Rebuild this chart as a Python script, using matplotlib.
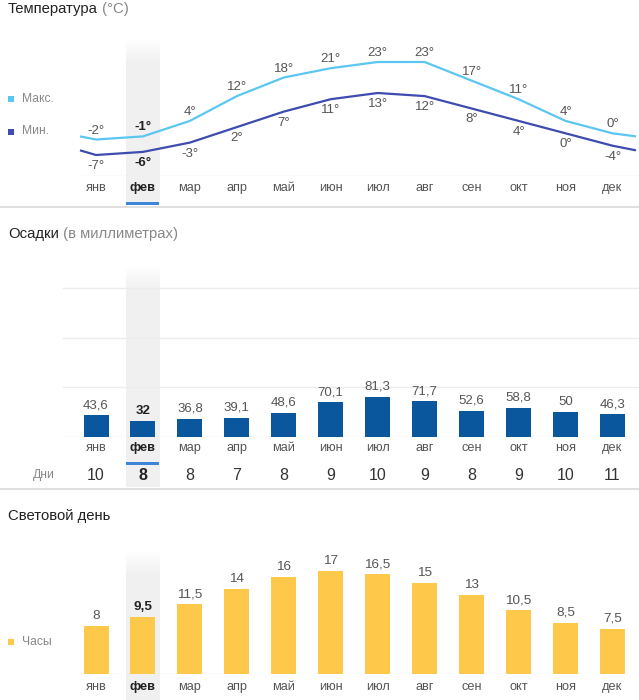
import matplotlib
matplotlib.use('Agg')
import matplotlib.pyplot as plt
from matplotlib import font_manager
from matplotlib.patches import Rectangle
import numpy as np

# avoid picking the condensed variant of Liberation Sans
font_manager.fontManager.ttflist = [f for f in font_manager.fontManager.ttflist
                                    if 'Narrow' not in f.fname]
try:
    font_manager.fontManager._findfont_cached.cache_clear()
except Exception:
    pass
plt.rcParams['font.family'] = ['Liberation Sans', 'DejaVu Sans']

# ---------------- data ----------------
months = ['янв', 'фев', 'мар', 'апр', 'май', 'июн', 'июл', 'авг', 'сен', 'окт', 'ноя', 'дек']
temp_max = [-2, -1, 4, 12, 18, 21, 23, 23, 17, 11, 4, 0]
temp_min = [-7, -6, -3, 2, 7, 11, 13, 12, 8, 4, 0, -4]
precip_mm = [43.6, 32, 36.8, 39.1, 48.6, 70.1, 81.3, 71.7, 52.6, 58.8, 50, 46.3]
rain_days = [10, 8, 8, 7, 8, 9, 10, 9, 8, 9, 10, 11]
daylight_h = [8, 9.5, 11.5, 14, 16, 17, 16.5, 15, 13, 10.5, 8.5, 7.5]
current = 1  # highlighted month (фев)

# ---------------- style ----------------
C_MAX = '#5cc6f2'
C_MIN = '#3d4cae'
C_RAIN = '#0a579e'
C_SUN = '#fec94a'
C_LABEL = '#555555'
C_DARK = '#222222'
C_LEG = '#888888'
C_HL = '#3d85d8'

W, H = 639, 700
X0, STEP = 96.0, 46.95
XL = (-X0 / STEP, (W - X0) / STEP)

def fmt(v):
    return f'{v:g}'.replace('.', ',')

fig = plt.figure(figsize=(W / 100, H / 100), dpi=100)
fig.patch.set_facecolor('white')

# background axes: x in month units, y in pixels (top-down)
bg = fig.add_axes([0, 0, 1, 1])
bg.axis('off')

def shade(top, bottom, ramp=25):
    n = int(bottom - top)
    a = np.clip(np.arange(n) / ramp, 0, 1)
    rgba = np.zeros((n, 1, 4))
    rgba[..., :3] = 0.945
    rgba[:, 0, 3] = a
    bg.imshow(rgba, extent=(current - 0.352, current + 0.352, bottom, top),
              aspect='auto', interpolation='bilinear', zorder=0)

shade(38, 205)
shade(265, 487)
shade(550, 700)

# separators
bg.plot([XL[0], XL[1]], [206.5, 206.5], color='#dddddd', lw=1.3, zorder=1)
bg.plot([XL[0], XL[1]], [488.5, 488.5], color='#dddddd', lw=1.3, zorder=1)

# highlight underlines
for y in (202, 462):
    bg.add_patch(Rectangle((current - 0.352, y), 0.704, 3, color=C_HL, lw=0, zorder=2))

def month_labels(ypix):
    for i, m in enumerate(months):
        bold = i == current
        bg.text(i, ypix, m, ha='center', va='center', fontsize=9.2,
                color=C_DARK if bold else C_LABEL,
                fontweight='bold' if bold else 'normal', zorder=3)

month_labels(188)
month_labels(448)
month_labels(687)

for i, d in enumerate(rain_days):
    bold = i == current
    bg.text(i, 475, str(d), ha='center', va='center', fontsize=11.5,
            color=C_DARK if bold else '#333333',
            fontweight='bold' if bold else 'normal', zorder=3)

bg.set_xlim(*XL)
bg.set_ylim(H, 0)

# titles
def title(x, ybase, main, sub):
    t = fig.text(x / W, 1 - ybase / H, main, fontsize=10.7, color=C_DARK,
                 ha='left', va='baseline')
    if sub:
        bg.annotate(sub, xy=(1, 0), xycoords=t, ha='left', va='bottom',
                    fontsize=10.7, color='#888888', annotation_clip=False)

title(8, 13, 'Температура', ' (°C)')
title(8, 238, 'Осадки', ' (в миллиметрах)')
title(8, 520, 'Световой день', '')

# legends
def legend_item(ypix, color, text):
    fig.patches.append(Rectangle((8 / W, 1 - (ypix + 3) / H), 6 / W, 6 / H,
                                 transform=fig.transFigure, color=color, lw=0))
    fig.text(22 / W, 1 - ypix / H, text, fontsize=8.7, color=C_LEG,
             ha='left', va='center')

legend_item(99, C_MAX, 'Макс.')
legend_item(131.5, C_MIN, 'Мин.')
legend_item(642, C_SUN, 'Часы')
fig.text(44 / W, 1 - 475 / H, 'Дни', fontsize=8.7, color=C_LEG, ha='center', va='center')

def data_axes(top, bottom):
    ax = fig.add_axes([0, 1 - bottom / H, 1, (bottom - top) / H])
    ax.set_facecolor('none')
    ax.axis('off')
    ax.set_xlim(*XL)
    return ax

# ---------------- temperature ----------------
PX_DEG = 3.1
at = data_axes(30, 176)
at.set_ylim(-7 - (176 - 155) / PX_DEG, -7 + (155 - 30) / PX_DEG)
at.hlines(at.get_ylim()[0], (80 - X0) / STEP, XL[1], color='#eeeeee', lw=1)
x = np.arange(12)
xl, xr = (80 - X0) / STEP, (636 - X0) / STEP
for vals, col in ((temp_max, C_MAX), (temp_min, C_MIN)):
    edge = (vals[0] + vals[-1]) / 2
    at.plot(np.r_[xl, x, xr], np.r_[edge, vals, edge], color=col, lw=1.6,
            solid_joinstyle='round', solid_capstyle='butt')
for i in range(12):
    bold = i == current
    kw = dict(ha='center', va='center', fontsize=9.5, textcoords='offset pixels',
              color=C_DARK if bold else C_LABEL,
              fontweight='bold' if bold else 'normal')
    at.annotate(f'{temp_max[i]}°', (i, temp_max[i]), xytext=(0, 9), **kw)
    at.annotate(f'{temp_min[i]}°', (i, temp_min[i]), xytext=(0, -11), **kw)

# ---------------- precipitation ----------------
PX_MM = 0.496
ap = data_axes(265, 437)
ap.set_ylim(0, (437 - 265) / PX_MM)
ap.hlines([0, 100, 200, 300], (62 - X0) / STEP, XL[1], color='#ececec', lw=1, zorder=0)
ap.bar(x, precip_mm, width=25 / STEP, color=C_RAIN, zorder=2)
for i, v in enumerate(precip_mm):
    bold = i == current
    ap.annotate(fmt(v), (i, v), xytext=(0, 10), textcoords='offset pixels',
                ha='center', va='center', fontsize=9.5,
                color=C_DARK if bold else C_LABEL,
                fontweight='bold' if bold else 'normal')

# ---------------- daylight ----------------
PX_H = 6.05
ad = data_axes(540, 674)
ad.set_ylim(0, (674 - 540) / PX_H)
ad.hlines(0, (80 - X0) / STEP, XL[1], color='#eeeeee', lw=1, zorder=0)
ad.bar(x, daylight_h, width=25 / STEP, color=C_SUN, zorder=2)
for i, v in enumerate(daylight_h):
    bold = i == current
    ad.annotate(fmt(v), (i, v), xytext=(0, 10), textcoords='offset pixels',
                ha='center', va='center', fontsize=9.7,
                color=C_DARK if bold else C_LABEL,
                fontweight='bold' if bold else 'normal')

fig.savefig('out.png', dpi=100, facecolor='white')
